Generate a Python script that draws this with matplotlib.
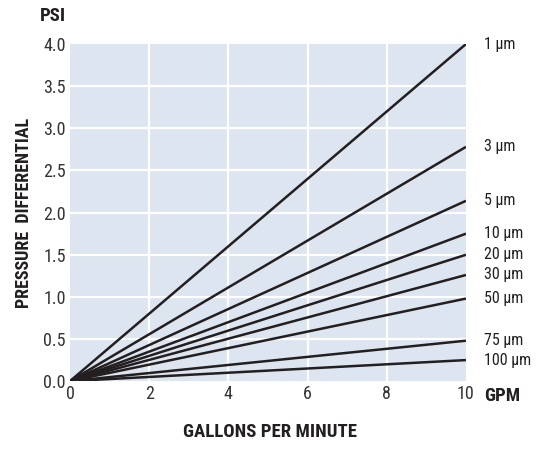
import matplotlib
matplotlib.use("Agg")
import matplotlib.pyplot as plt
from matplotlib import font_manager
import numpy as np

names = {f.name for f in font_manager.fontManager.ttflist}
fam = [n for n in ['Liberation Sans Narrow', 'DejaVu Sans Condensed', 'Roboto Condensed', 'Liberation Sans'] if n in names]
plt.rcParams['font.family'] = fam + ['DejaVu Sans']

labels = ["1 µm", "3 µm", "5 µm", "10 µm", "20 µm", "30 µm", "50 µm", "75 µm", "100 µm"]
psi_at_10 = [4.0, 2.78, 2.14, 1.75, 1.50, 1.26, 0.98, 0.48, 0.25]
gpm = [0, 10]
xticks = [0, 2, 4, 6, 8, 10]
yticks = [0.0, 0.5, 1.0, 1.5, 2.0, 2.5, 3.0, 3.5, 4.0]

fig = plt.figure(figsize=(5.38, 4.5), dpi=100)
ax = fig.add_axes([0.130, 0.153, 0.736, 0.749])
ax.set_facecolor('#dde5f0')
for x in xticks[1:-1]:
    ax.axvline(x, color='white', lw=1.6, zorder=1)
for y in yticks[1:-1]:
    ax.axhline(y, color='white', lw=1.6, zorder=1)

for lab, v in zip(labels, psi_at_10):
    ax.plot(gpm, [0, v], color='#231f20', lw=1.8, zorder=3, solid_capstyle='butt')
    ax.annotate(lab, xy=(10, v), xytext=(13, 0), textcoords='offset points',
                va='center', ha='left', fontsize=11.5, color='#231f20', annotation_clip=False)

ax.set_xlim(0, 10)
ax.set_ylim(0, 4.0)
ax.set_xticks(xticks)
ax.set_yticks(yticks)
ax.set_xticklabels([str(x) for x in xticks])
ax.set_yticklabels([f"{y:.1f}" for y in yticks])
ax.tick_params(length=0, labelsize=13, colors='#333333', pad=3)
for s in ax.spines.values():
    s.set_visible(False)

fig.text(40/538, 1 - 16/450, "PSI", fontsize=13.5, fontweight='bold', ha='left', va='center', color='#231f20')
fig.text(484/538, 1 - 396/450, "GPM", fontsize=13.5, fontweight='bold', ha='left', va='center', color='#231f20')
fig.text(270/538, 1 - 432/450, "GALLONS PER MINUTE", fontsize=13.5, fontweight='bold', ha='center', va='center', color='#231f20')
fig.text(24/538, 1 - 213/450, "PRESSURE  DIFFERENTIAL", fontsize=13, fontweight='bold', ha='center', va='center',
         rotation=90, color='#231f20')

fig.savefig("out.png", dpi=100)
